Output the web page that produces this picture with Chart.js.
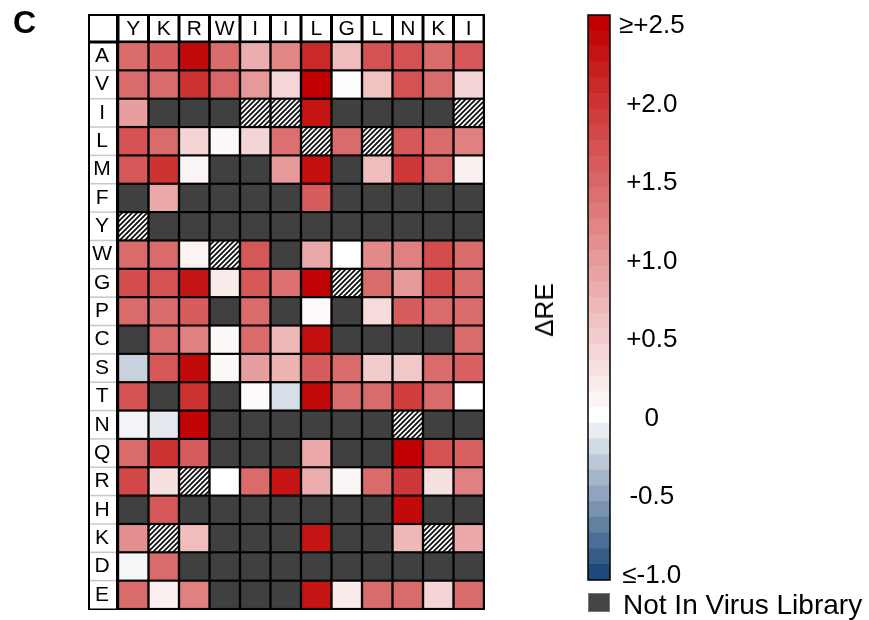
<!DOCTYPE html>
<html>
<head>
<meta charset="utf-8">
<script src="https://cdn.jsdelivr.net/npm/chart.js@4"></script>
<style>
  body { margin: 0; background: #fff; font-family: "Liberation Sans", Arial, sans-serif; }
  #wrap { position: relative; width: 869px; height: 620px; overflow: hidden; }
  canvas { position: absolute; top: 0; }
  #heat { left: 0; }
  #scale { left: 500px; }
  .txt { position: absolute; color: #000; white-space: nowrap; }
  #panel { left: 13px; top: 6px; font-size: 32px; line-height: 32px; font-weight: bold; }
  #title { left: 544px; top: 310px; font-size: 26px; line-height: 26px; transform: translate(-50%, -50%) rotate(-90deg); }
  #na { left: 588px; top: 593px; width: 20px; height: 17px; background: #444; border: 1px solid #777; }
  #naLabel { left: 623px; top: 591px; font-size: 28px; line-height: 28px; }
</style>
</head>
<body>
<div id="wrap">
  <canvas id="heat" width="500" height="620"></canvas>
  <canvas id="scale" width="369" height="620"></canvas>
  <div class="txt" id="panel">C</div>
  <div class="txt" id="title">ΔRE</div>
  <div class="txt" id="na"></div>
  <div class="txt" id="naLabel">Not In Virus Library</div>
</div>
<script>
document.addEventListener("DOMContentLoaded", function () {
    Chart.defaults.font.family = "'Liberation Sans', Arial, sans-serif";
    Chart.defaults.color = "#000";

    // wild-type residue at each position (columns)
    const columnLabels = ["Y", "K", "R", "W", "I", "I", "L", "G", "L", "N", "K", "I"];
    // mutant amino acid (rows)
    const rowLabels = ["A", "V", "I", "L", "M", "F", "Y", "W", "G", "P", "C", "S", "T", "N", "Q", "R", "H", "K", "D", "E"];

    // ΔRE per row, null = not in virus library (wild-type cells are hatched)
    const rowA = [1.45, 1.6, 2.4, 1.45, 0.8, 1.2, 2.1, 0.65, 1.7, 1.7, 1.45, 1.65];
    const rowV = [1.45, 1.45, 2.0, 1.5, 1.0, 0.4, 2.5, 0.02, 0.6, 1.7, 1.45, 0.42];
    const rowI = [0.95, null, null, null, null, null, 2.3, null, null, null, null, null];
    const rowL = [1.7, 1.45, 0.42, 0.06, 0.42, 1.4, null, 1.45, null, 1.65, 1.45, 1.25];
    const rowM = [1.65, 2.0, 0.1, null, null, 1.0, 2.35, null, 0.65, 1.95, 1.45, 0.15];
    const rowF = [null, 0.85, null, null, null, null, 1.6, null, null, null, null, null];
    const rowY = [null, null, null, null, null, null, null, null, null, null, null, null];
    const rowW = [1.45, 1.45, 0.12, null, 1.65, null, 0.85, 0.0, 1.15, 1.25, 1.75, 1.45];
    const rowG = [1.75, 1.7, 2.3, 0.2, 1.65, 1.4, 2.45, null, 1.45, 1.0, 1.75, 1.45];
    const rowP = [1.45, 1.45, 1.6, null, 1.45, null, 0.05, null, 0.35, 1.6, 1.45, 1.45];
    const rowC = [null, 1.45, 1.25, 0.07, 1.45, 0.7, 2.35, null, null, null, null, 1.45];
    const rowS = [-0.25, 1.65, 2.4, 0.07, 0.95, 0.75, 1.6, 1.45, 0.5, 0.55, 1.45, 1.55];
    const rowT = [1.7, null, 2.0, null, 0.05, -0.18, 2.4, 1.45, 1.45, 1.9, 1.45, 0.0];
    const rowN = [-0.06, -0.12, 2.45, null, null, null, null, null, null, null, null, null];
    const rowQ = [1.45, 2.0, 1.6, null, null, null, 0.85, null, null, 2.5, 1.7, 1.55];
    const rowR = [1.8, 0.3, null, 0.0, 1.45, 2.3, 0.8, 0.1, 1.45, 1.95, 0.3, 1.25];
    const rowH = [null, 1.65, null, null, null, null, null, null, null, 2.4, null, null];
    const rowK = [1.1, null, 0.65, null, null, null, 2.3, null, null, 0.7, null, 0.85];
    const rowD = [-0.05, 1.45, null, null, null, null, null, null, null, null, null, null];
    const rowE = [1.45, 0.15, 1.25, null, null, null, 2.3, 0.2, 1.45, 1.45, 0.42, 1.45];
    const rows = [rowA, rowV, rowI, rowL, rowM, rowF, rowY, rowW, rowG, rowP,
                  rowC, rowS, rowT, rowN, rowQ, rowR, rowH, rowK, rowD, rowE];

    // colour bar
    const scaleSteps = [-1.0, -0.9, -0.8, -0.7, -0.6, -0.5, -0.4, -0.3, -0.2, -0.1, 0.0,
                        0.1, 0.2, 0.3, 0.4, 0.5, 0.6, 0.7, 0.8, 0.9, 1.0, 1.1, 1.2, 1.3, 1.4,
                        1.5, 1.6, 1.7, 1.8, 1.9, 2.0, 2.1, 2.2, 2.3, 2.4, 2.5];
    const scaleTicks = [-1.0, -0.5, 0, 0.5, 1.0, 1.5, 2.0, 2.5];
    const scaleTickLabels = ["≤-1.0", "-0.5", "0", "+0.5", "+1.0", "+1.5", "+2.0", "≥+2.5"];

    const NA_COLOR = "#404040";
    const POS_END = [192, 0, 0];
    const NEG_END = [31, 73, 122];

    function colorFor(v) {
        const t = v >= 0 ? Math.min(v / 2.5, 1) : Math.min(-v, 1);
        const end = v >= 0 ? POS_END : NEG_END;
        const c = end.map((e) => Math.round(255 + (e - 255) * t));
        return "rgb(" + c.join(",") + ")";
    }

    function makeHatch(ctx) {
        const c = document.createElement("canvas");
        c.width = 5;
        c.height = 5;
        const g = c.getContext("2d");
        g.fillStyle = "#fff";
        g.fillRect(0, 0, 5, 5);
        g.strokeStyle = "#111";
        g.lineWidth = 1.8;
        g.beginPath();
        g.moveTo(-1, 6); g.lineTo(6, -1);
        g.moveTo(-1, 1); g.lineTo(1, -1);
        g.moveTo(4, 6); g.lineTo(6, 4);
        g.stroke();
        return ctx.createPattern(c, "repeat");
    }

    // drop the half-label padding chart.js adds at the ends of an axis
    function noEndPadding(scale) {
        scale.paddingTop = 0;
        scale.paddingBottom = 0;
        scale.paddingLeft = 0;
        scale.paddingRight = 0;
    }

    const heatCtx = document.getElementById("heat").getContext("2d");
    const hatch = makeHatch(heatCtx);

    const heatDatasets = rows.map((vals, r) => {
        return {
            label: rowLabels[r],
            data: columnLabels.map(() => [r - 0.45, r + 0.45]),
            backgroundColor: columnLabels.map((wt, c) => {
                if (wt === rowLabels[r]) return hatch;
                if (vals[c] === null) return NA_COLOR;
                return colorFor(vals[c]);
            }),
            grouped: false,
            barThickness: 27.5,
            borderWidth: 0,
        };
    });

    // black frame, white header and row-label cells
    const frame = {
        id: "frame",
        beforeDraw(chart) {
            const { ctx, chartArea, scales } = chart;
            const x = scales.x;
            const y = scales.y;
            const left = y.left;
            const top = x.top;
            const right = chartArea.right + 1;
            const bottom = chartArea.bottom + 1;
            ctx.save();
            ctx.fillStyle = "#000";
            ctx.fillRect(left, top, right - left, bottom - top);
            ctx.fillStyle = "#fff";
            ctx.fillRect(left + 2, top + 2, chartArea.left - left - 4, chartArea.top - top - 3.5);
            ctx.fillRect(left + 2, chartArea.top + 1.5, chartArea.left - left - 4, chartArea.bottom - chartArea.top - 2);
            const pitch = (chartArea.right - chartArea.left) / columnLabels.length;
            columnLabels.forEach((_, i) => {
                const cx = x.getPixelForValue(i);
                ctx.fillRect(cx - pitch / 2 + 1.5, top + 2, pitch - 3, chartArea.top - top - 3.5);
            });
            ctx.strokeStyle = "#c8c8c8";
            ctx.lineWidth = 1.5;
            for (let r = 1; r < rowLabels.length; r++) {
                const py = y.getPixelForValue(r - 0.5);
                ctx.beginPath();
                ctx.moveTo(left + 2, py);
                ctx.lineTo(chartArea.left - 2, py);
                ctx.stroke();
            }
            ctx.restore();
        },
    };

    new Chart(heatCtx, {
        type: "bar",
        data: { labels: columnLabels, datasets: heatDatasets },
        options: {
            responsive: false,
            animation: false,
            layout: { padding: { left: 88, top: 14, right: 16, bottom: 11 } },
            plugins: { legend: { display: false }, tooltip: { enabled: false } },
            scales: {
                x: {
                    position: "top",
                    grid: { display: false, drawTicks: false },
                    border: { display: false },
                    ticks: { font: { size: 21 }, padding: 0, maxRotation: 0, autoSkip: false },
                    afterFit: (scale) => { scale.height = 28; noEndPadding(scale); },
                },
                y: {
                    type: "linear",
                    reverse: true,
                    min: -0.5,
                    max: rowLabels.length - 0.5,
                    grid: { display: false, drawTicks: false },
                    border: { display: false },
                    afterBuildTicks: (scale) => { scale.ticks = rowLabels.map((_, i) => ({ value: i })); },
                    ticks: {
                        font: { size: 21 },
                        crossAlign: "center",
                        padding: 6,
                        autoSkip: false,
                        callback: (v) => rowLabels[v],
                    },
                    afterFit: (scale) => { scale.width = 30; noEndPadding(scale); },
                },
            },
        },
        plugins: [frame],
    });

    // colour bar
    const outline = {
        id: "outline",
        afterDatasetsDraw(chart) {
            const { ctx, chartArea } = chart;
            ctx.save();
            ctx.strokeStyle = "#000";
            ctx.lineWidth = 1.5;
            ctx.strokeRect(chartArea.left, chartArea.top, chartArea.right - chartArea.left, chartArea.bottom - chartArea.top);
            ctx.restore();
        },
    };

    new Chart(document.getElementById("scale").getContext("2d"), {
        type: "bar",
        data: {
            labels: ["ΔRE"],
            datasets: scaleSteps.map((v) => ({
                data: [[v - 0.05, v + 0.05]],
                backgroundColor: colorFor(v),
                grouped: false,
                barPercentage: 1,
                categoryPercentage: 1,
                borderWidth: 0,
            })),
        },
        options: {
            responsive: false,
            animation: false,
            layout: { padding: { left: 88, top: 15, right: 139, bottom: 40 } },
            plugins: { legend: { display: false }, tooltip: { enabled: false } },
            scales: {
                x: { display: false },
                y: {
                    type: "linear",
                    position: "right",
                    min: -1.05,
                    max: 2.55,
                    grid: { display: false, drawTicks: false },
                    border: { display: false },
                    afterBuildTicks: (scale) => { scale.ticks = scaleTicks.map((v) => ({ value: v })); },
                    ticks: {
                        // empty first line + small line height nudges the labels ~3px down
                        font: { size: 26, lineHeight: 0.25 },
                        crossAlign: "center",
                        padding: 9,
                        autoSkip: false,
                        callback: (v) => ["", scaleTickLabels[scaleTicks.indexOf(v)]],
                    },
                    afterFit: (scale) => { scale.width = 120; noEndPadding(scale); },
                },
            },
        },
        plugins: [outline],
    });
});
</script>
</body>
</html>
